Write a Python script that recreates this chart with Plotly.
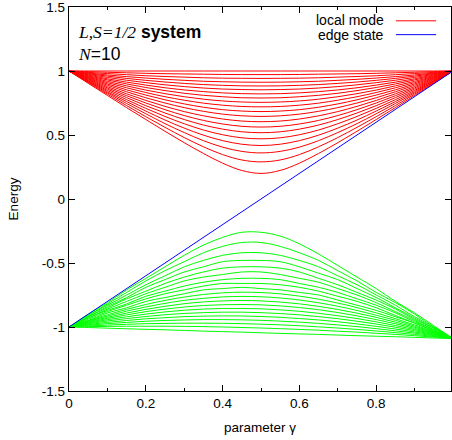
import plotly.graph_objects as go

# parameter gamma (x axis samples)
gamma = [0.00, 0.05, 0.10, 0.15, 0.20, 0.25, 0.30, 0.35, 0.40, 0.45, 0.50,
         0.55, 0.60, 0.65, 0.70, 0.75, 0.80, 0.85, 0.90, 0.95, 1.00]

# "local mode" levels (red), one row per level
local_modes = [
    [1.000, 0.904, 0.809, 0.714, 0.621, 0.529, 0.440, 0.356, 0.280, 0.223, 0.200, 0.223, 0.280, 0.356, 0.440, 0.529, 0.621, 0.714, 0.809, 0.904, 1.000],
    [1.000, 0.909, 0.819, 0.730, 0.643, 0.560, 0.480, 0.408, 0.347, 0.305, 0.290, 0.305, 0.347, 0.408, 0.480, 0.560, 0.643, 0.730, 0.819, 0.909, 1.000],
    [1.000, 0.914, 0.829, 0.746, 0.666, 0.589, 0.519, 0.456, 0.405, 0.372, 0.360, 0.372, 0.405, 0.456, 0.519, 0.589, 0.666, 0.746, 0.829, 0.914, 1.000],
    [1.000, 0.918, 0.838, 0.761, 0.687, 0.617, 0.554, 0.499, 0.456, 0.428, 0.418, 0.428, 0.456, 0.499, 0.554, 0.617, 0.687, 0.761, 0.838, 0.918, 1.000],
    [1.000, 0.923, 0.848, 0.776, 0.708, 0.645, 0.588, 0.539, 0.502, 0.478, 0.470, 0.478, 0.502, 0.539, 0.588, 0.645, 0.708, 0.776, 0.848, 0.923, 1.000],
    [1.000, 0.928, 0.858, 0.792, 0.729, 0.672, 0.621, 0.578, 0.546, 0.525, 0.518, 0.525, 0.546, 0.578, 0.621, 0.672, 0.729, 0.792, 0.858, 0.928, 1.000],
    [1.000, 0.933, 0.868, 0.807, 0.750, 0.698, 0.652, 0.614, 0.586, 0.568, 0.562, 0.568, 0.586, 0.614, 0.652, 0.698, 0.750, 0.807, 0.868, 0.933, 1.000],
    [1.000, 0.938, 0.878, 0.822, 0.770, 0.724, 0.683, 0.650, 0.625, 0.609, 0.604, 0.609, 0.625, 0.650, 0.683, 0.724, 0.770, 0.822, 0.878, 0.938, 1.000],
    [1.000, 0.943, 0.889, 0.838, 0.791, 0.750, 0.714, 0.685, 0.663, 0.650, 0.645, 0.650, 0.663, 0.685, 0.714, 0.750, 0.791, 0.838, 0.889, 0.943, 1.000],
    [1.000, 0.948, 0.899, 0.853, 0.812, 0.775, 0.743, 0.717, 0.698, 0.687, 0.683, 0.687, 0.698, 0.717, 0.743, 0.775, 0.812, 0.853, 0.899, 0.948, 1.000],
    [1.000, 0.953, 0.909, 0.869, 0.832, 0.799, 0.772, 0.749, 0.733, 0.723, 0.720, 0.723, 0.733, 0.749, 0.772, 0.799, 0.832, 0.869, 0.909, 0.953, 1.000],
    [1.000, 0.958, 0.919, 0.884, 0.851, 0.823, 0.799, 0.780, 0.766, 0.758, 0.755, 0.758, 0.766, 0.780, 0.799, 0.823, 0.851, 0.884, 0.919, 0.958, 1.000],
    [1.000, 0.963, 0.930, 0.899, 0.871, 0.847, 0.826, 0.810, 0.799, 0.791, 0.789, 0.791, 0.799, 0.810, 0.826, 0.847, 0.871, 0.899, 0.930, 0.963, 1.000],
    [1.000, 0.969, 0.939, 0.913, 0.890, 0.869, 0.852, 0.839, 0.829, 0.823, 0.821, 0.823, 0.829, 0.839, 0.852, 0.869, 0.890, 0.913, 0.939, 0.969, 1.000],
    [1.000, 0.974, 0.950, 0.928, 0.909, 0.892, 0.878, 0.867, 0.859, 0.855, 0.853, 0.855, 0.859, 0.867, 0.878, 0.892, 0.909, 0.928, 0.950, 0.974, 1.000],
    [1.000, 0.979, 0.960, 0.942, 0.927, 0.914, 0.903, 0.894, 0.888, 0.884, 0.883, 0.884, 0.888, 0.894, 0.903, 0.914, 0.927, 0.942, 0.960, 0.979, 1.000],
    [1.000, 0.984, 0.969, 0.956, 0.945, 0.935, 0.927, 0.920, 0.916, 0.913, 0.912, 0.913, 0.916, 0.920, 0.927, 0.935, 0.945, 0.956, 0.969, 0.984, 1.000],
    [1.000, 0.989, 0.980, 0.971, 0.963, 0.957, 0.952, 0.947, 0.944, 0.943, 0.942, 0.943, 0.944, 0.947, 0.952, 0.957, 0.963, 0.971, 0.980, 0.989, 1.000],
    [1.000, 0.995, 0.990, 0.986, 0.982, 0.979, 0.977, 0.975, 0.973, 0.972, 0.972, 0.972, 0.973, 0.975, 0.977, 0.979, 0.982, 0.986, 0.990, 0.995, 1.000],
    [1.000, 1.000, 1.000, 1.000, 1.000, 1.000, 1.000, 1.000, 1.000, 1.000, 1.000, 1.000, 1.000, 1.000, 1.000, 1.000, 1.000, 1.000, 1.000, 1.000, 1.000],
]

# lower band levels (green), one row per level
lower_modes = [
    [-1.00, -0.90, -0.81, -0.71, -0.62, -0.53, -0.44, -0.36, -0.30, -0.26, -0.26, -0.29, -0.35, -0.43, -0.52, -0.61, -0.70, -0.80, -0.89, -0.99, -1.09],
    [-1.00, -0.91, -0.82, -0.73, -0.64, -0.56, -0.49, -0.42, -0.37, -0.34, -0.34, -0.37, -0.42, -0.48, -0.56, -0.64, -0.73, -0.81, -0.90, -1.00, -1.09],
    [-1.00, -0.91, -0.83, -0.75, -0.67, -0.60, -0.53, -0.48, -0.44, -0.42, -0.42, -0.44, -0.48, -0.53, -0.60, -0.67, -0.75, -0.83, -0.92, -1.00, -1.09],
    [-1.00, -0.92, -0.84, -0.77, -0.69, -0.63, -0.57, -0.53, -0.49, -0.48, -0.48, -0.49, -0.53, -0.58, -0.63, -0.70, -0.77, -0.85, -0.93, -1.01, -1.09],
    [-1.00, -0.92, -0.85, -0.78, -0.72, -0.66, -0.61, -0.57, -0.54, -0.53, -0.53, -0.54, -0.57, -0.62, -0.67, -0.73, -0.79, -0.86, -0.94, -1.01, -1.09],
    [-1.00, -0.93, -0.86, -0.80, -0.74, -0.69, -0.64, -0.61, -0.59, -0.57, -0.57, -0.59, -0.62, -0.65, -0.70, -0.75, -0.81, -0.88, -0.95, -1.02, -1.09],
    [-1.00, -0.93, -0.87, -0.82, -0.76, -0.72, -0.68, -0.65, -0.63, -0.62, -0.62, -0.63, -0.66, -0.69, -0.73, -0.78, -0.83, -0.89, -0.96, -1.02, -1.09],
    [-1.00, -0.94, -0.88, -0.83, -0.78, -0.74, -0.71, -0.68, -0.66, -0.66, -0.66, -0.67, -0.69, -0.72, -0.76, -0.80, -0.85, -0.91, -0.97, -1.03, -1.09],
    [-1.00, -0.95, -0.89, -0.85, -0.80, -0.77, -0.74, -0.71, -0.70, -0.69, -0.70, -0.71, -0.73, -0.75, -0.79, -0.83, -0.87, -0.92, -0.97, -1.03, -1.09],
    [-1.000, -0.950, -0.904, -0.862, -0.824, -0.792, -0.766, -0.746, -0.733, -0.728, -0.731, -0.741, -0.759, -0.783, -0.813, -0.849, -0.890, -0.935, -0.984, -1.036, -1.090],
    [-1.000, -0.955, -0.914, -0.876, -0.843, -0.815, -0.792, -0.776, -0.765, -0.761, -0.764, -0.773, -0.789, -0.811, -0.838, -0.871, -0.908, -0.948, -0.993, -1.040, -1.090],
    [-1.000, -0.960, -0.924, -0.891, -0.862, -0.838, -0.818, -0.804, -0.796, -0.793, -0.796, -0.805, -0.819, -0.839, -0.863, -0.892, -0.925, -0.962, -1.002, -1.045, -1.090],
    [-1.000, -0.965, -0.933, -0.905, -0.880, -0.860, -0.844, -0.832, -0.826, -0.824, -0.827, -0.835, -0.848, -0.865, -0.887, -0.913, -0.942, -0.975, -1.011, -1.049, -1.090],
    [-1.000, -0.970, -0.943, -0.920, -0.899, -0.882, -0.869, -0.860, -0.855, -0.855, -0.858, -0.866, -0.877, -0.893, -0.912, -0.934, -0.960, -0.989, -1.020, -1.054, -1.090],
    [-1.000, -0.975, -0.953, -0.934, -0.918, -0.904, -0.894, -0.888, -0.884, -0.884, -0.888, -0.895, -0.905, -0.919, -0.935, -0.955, -0.977, -1.002, -1.029, -1.059, -1.090],
    [-1.000, -0.981, -0.964, -0.949, -0.936, -0.927, -0.919, -0.915, -0.913, -0.914, -0.918, -0.924, -0.934, -0.945, -0.959, -0.976, -0.995, -1.016, -1.039, -1.063, -1.090],
    [-1.000, -0.986, -0.974, -0.964, -0.955, -0.949, -0.945, -0.942, -0.942, -0.944, -0.948, -0.954, -0.962, -0.972, -0.984, -0.997, -1.013, -1.030, -1.048, -1.068, -1.090],
    [-1.000, -0.992, -0.985, -0.979, -0.974, -0.972, -0.970, -0.970, -0.971, -0.974, -0.978, -0.983, -0.990, -0.999, -1.008, -1.019, -1.031, -1.044, -1.058, -1.074, -1.090],
    [-1.000, -0.997, -0.995, -0.994, -0.994, -0.994, -0.995, -0.997, -1.000, -1.004, -1.008, -1.013, -1.019, -1.025, -1.033, -1.040, -1.049, -1.058, -1.068, -1.079, -1.090],
    [-1.000, -1.004, -1.009, -1.014, -1.018, -1.022, -1.027, -1.032, -1.036, -1.040, -1.045, -1.050, -1.054, -1.058, -1.063, -1.068, -1.072, -1.076, -1.081, -1.086, -1.090],
]

# edge state (blue)
edge_gamma = [0.0, 1.0]
edge_state = [-1.0, 1.0]

x_tickvals = [0, 0.2, 0.4, 0.6, 0.8]
x_ticktext = ["0", "0.2", "0.4", "0.6", "0.8"]
y_tickvals = [1.5, 1, 0.5, 0, -0.5, -1, -1.5]
y_ticktext = ["1.5", "1", "0.5", "0", "-0.5", "-1", "-1.5"]

fig = go.Figure()
for row in local_modes:
    fig.add_trace(go.Scatter(x=gamma, y=row, mode="lines", name="local mode",
                             line=dict(color="#ff0000", width=1, shape="spline"), showlegend=False))
for row in lower_modes:
    fig.add_trace(go.Scatter(x=gamma, y=row, mode="lines",
                             line=dict(color="#00ff00", width=1, shape="spline"), showlegend=False))
fig.add_trace(go.Scatter(x=edge_gamma, y=edge_state, mode="lines", name="edge state",
                         line=dict(color="#0000ff", width=1), showlegend=False))

font = "Liberation Sans, Arial, sans-serif"
fig.update_layout(
    width=452, height=440, margin=dict(l=69, r=0, t=5, b=49),
    paper_bgcolor="white", plot_bgcolor="white",
    font=dict(family=font, size=13.5, color="black"),
)
fig.update_xaxes(range=[0, 0.9948], tickvals=x_tickvals, ticktext=x_ticktext,
                 ticks="inside", ticklen=6, tickcolor="black", showline=True, linecolor="black", linewidth=1.2,
                 mirror="ticks", showgrid=False, zeroline=False, ticklabeloverflow="allow",
                 minor=dict(ticks="inside", ticklen=3, dtick=0.1, tick0=0, tickcolor="black"),
                 title=dict(text="parameter γ", font=dict(size=13.5), standoff=12))
fig.update_yaxes(range=[-1.5, 1.5], tickvals=y_tickvals, ticktext=y_ticktext,
                 ticks="inside", ticklen=6, tickcolor="black", showline=True, linecolor="black", linewidth=1.2,
                 mirror="ticks", showgrid=False, zeroline=False, ticklabeloverflow="allow",
                 title=dict(text="Energy", font=dict(size=13.5), standoff=20))

fig.add_annotation(xref="paper", yref="paper", x=(76 - 69) / 383, y=0.935, xanchor="left", yanchor="middle", showarrow=False,
                   text="<span style='font-family:Liberation Serif'><i>L,S=1/2</i></span> <b>system</b>", font=dict(size=17.5))
fig.add_annotation(xref="paper", yref="paper", x=(76 - 69) / 383, y=0.878, xanchor="left", yanchor="middle", showarrow=False,
                   text="<span style='font-family:Liberation Serif'><i>N</i></span>=10", font=dict(size=17.5))
fig.add_annotation(xref="paper", yref="paper", x=0.830, y=0.966, xanchor="right", yanchor="middle", showarrow=False,
                   text="local mode", font=dict(size=14))
fig.add_annotation(xref="paper", yref="paper", x=0.830, y=0.927, xanchor="right", yanchor="middle", showarrow=False,
                   text="edge state", font=dict(size=14))
fig.add_shape(type="line", xref="paper", yref="paper", x0=0.856, x1=0.961, y0=0.964, y1=0.964,
              line=dict(color="#ff0000", width=1))
fig.add_shape(type="line", xref="paper", yref="paper", x0=0.856, x1=0.961, y0=0.928, y1=0.928,
              line=dict(color="#0000ff", width=1))

fig.write_html("out.html", config={"displayModeBar": False, "staticPlot": True},
               post_script="document.body.style.margin='0';document.body.style.overflow='hidden';")
